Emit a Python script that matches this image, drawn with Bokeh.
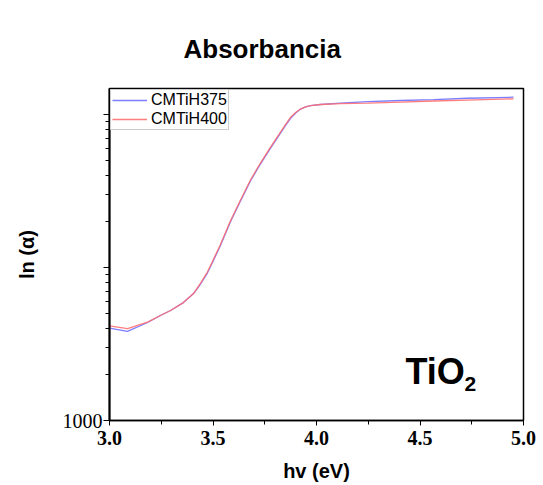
from bokeh.plotting import figure
from bokeh.models import (Range1d, FixedTicker, Legend, LegendItem, Label, LinearAxis,
                          PrintfTickFormatter, CustomJSTickFormatter)
from bokeh.embed import file_html
from bokeh.resources import INLINE

# ---- data ----
hv = [3.000, 3.087, 3.184, 3.246, 3.295, 3.357, 3.406, 3.440, 3.473, 3.502,
      3.536, 3.585, 3.633, 3.681, 3.729, 3.778, 3.826, 3.850, 3.874, 3.899,
      3.923, 3.947, 3.971, 4.019, 4.116, 4.246, 4.406, 4.565, 4.729, 4.952]
cmtih375 = [4020, 3820, 4370, 4860, 5240, 5900, 6760, 7800, 9200, 11110,
            13930, 19980, 27200, 36760, 47470, 60390, 75700, 84750, 94170, 102300,
            108600, 112300, 114500, 116300, 118900, 121600, 123500, 125300, 127800, 129800]
cmtih400 = [4150, 3990, 4400, 4860, 5240, 5900, 6760, 7900, 9350, 11280,
            14140, 20290, 27620, 37320, 48190, 61310, 76850, 86030, 95590, 103100,
            108600, 112300, 114500, 116300, 118000, 118900, 120700, 122600, 124400, 126600]
series_names = ["CMTiH375", "CMTiH400"]
x_ticks = [3.0, 3.5, 4.0, 4.5, 5.0]
x_minor = [3.25, 3.75, 4.25, 4.75]
y_ticks = [1000, 10000, 100000]
y_minor = [2000, 3000, 4000, 5000, 6000, 7000, 8000, 9000,
           20000, 30000, 40000, 50000, 60000, 70000, 80000, 90000]

SANS = "Liberation Sans"
SERIF = "Liberation Serif"

p = figure(width=543, height=485, x_range=Range1d(3.0, 5.0),
           y_range=Range1d(1000, 148000), y_axis_type="log",
           output_backend="svg", toolbar_location=None,
           min_border_left=109, min_border_right=20,
           min_border_top=88, min_border_bottom=65)
p.background_fill_color = "white"
p.border_fill_color = "white"
p.xgrid.visible = False
p.ygrid.visible = False
p.outline_line_color = "black"
p.outline_line_width = 1.5

# invisible axis above the frame, used only as spacing under the title
spacer_axis = LinearAxis(ticker=FixedTicker(ticks=[]), axis_label=".",
                         axis_label_text_alpha=0, axis_label_text_font=SANS,
                         axis_label_text_font_size="26px",
                         axis_label_text_font_style="bold",
                         axis_label_standoff=2, axis_line_color=None,
                         major_tick_out=0, minor_tick_out=0,
                         major_tick_in=0, minor_tick_in=0,
                         major_label_standoff=0)
p.add_layout(spacer_axis, "above")

# title
p.title.text = "Absorbancia"
p.title.align = "left"
p.title.text_font = SANS
p.title.text_font_size = "26px"
p.title.text_font_style = "bold"
p.title.text_color = "black"
p.title.offset = 74
p.title.standoff = 4

# x axis
xa = p.below[0]
xa.ticker = FixedTicker(ticks=x_ticks, minor_ticks=x_minor)
xa.formatter = PrintfTickFormatter(format="%.1f")
xa.axis_label = "hv (eV)"
xa.axis_label_text_font = SANS
xa.axis_label_text_font_size = "20px"
xa.axis_label_text_font_style = "bold"
xa.axis_label_text_color = "black"
xa.axis_label_standoff = 12
xa.major_label_text_font = SERIF
xa.major_label_text_font_size = "20px"
xa.major_label_text_font_style = "bold"
xa.major_label_text_color = "black"
xa.major_label_standoff = 5
xa.axis_line_width = 1.5
xa.axis_line_color = "black"
xa.major_tick_line_color = "black"
xa.minor_tick_line_color = "black"
xa.major_tick_in = 0
xa.major_tick_out = 5
xa.minor_tick_in = 0
xa.minor_tick_out = 4

# y axis
ya = p.yaxis[0]
ya.ticker = FixedTicker(ticks=y_ticks, minor_ticks=y_minor)
ya.formatter = CustomJSTickFormatter(code="return tick == 1000 ? '1000' : '';")
ya.axis_label = "ln (α)"
ya.axis_label_text_font = SANS
ya.axis_label_text_font_size = "20px"
ya.axis_label_text_font_style = "bold"
ya.axis_label_text_color = "black"
ya.axis_label_standoff = 22
ya.major_label_text_font = SERIF
ya.major_label_text_font_size = "20px"
ya.major_label_text_color = "black"
ya.major_label_standoff = 1
ya.axis_line_width = 2
ya.axis_line_color = "black"
ya.major_tick_line_color = "black"
ya.minor_tick_line_color = "black"
ya.major_tick_in = 0
ya.major_tick_out = 6
ya.minor_tick_in = 0
ya.minor_tick_out = 4

r1 = p.line(hv, cmtih375, line_color="#6f6fff", line_width=1.3, line_alpha=0.9)
r2 = p.line(hv, cmtih400, line_color="#ff6f6f", line_width=1.3, line_alpha=0.9)

legend = Legend(items=[LegendItem(label=series_names[0], renderers=[r1]),
                       LegendItem(label=series_names[1], renderers=[r2])],
                location="top_left")
legend.margin = 1
legend.padding = 1
legend.spacing = 1
legend.glyph_width = 35
legend.glyph_height = 18
legend.label_height = 18
legend.label_standoff = 4
legend.label_text_font = SANS
legend.label_text_font_size = "16px"
legend.label_text_color = "black"
legend.border_line_color = "#999999"
legend.border_line_width = 1
legend.background_fill_alpha = 1
p.add_layout(legend)

p.add_layout(Label(x=4.43, y=2100, text="TiO", text_font=SANS,
                   text_font_size="36px", text_font_style="bold",
                   text_baseline="alphabetic", text_color="black"))
p.add_layout(Label(x=4.715, y=1744, text="2", text_font=SANS,
                   text_font_size="21px", text_font_style="bold",
                   text_baseline="alphabetic", text_color="black"))

open("out.html", "w").write(file_html(p, INLINE))
